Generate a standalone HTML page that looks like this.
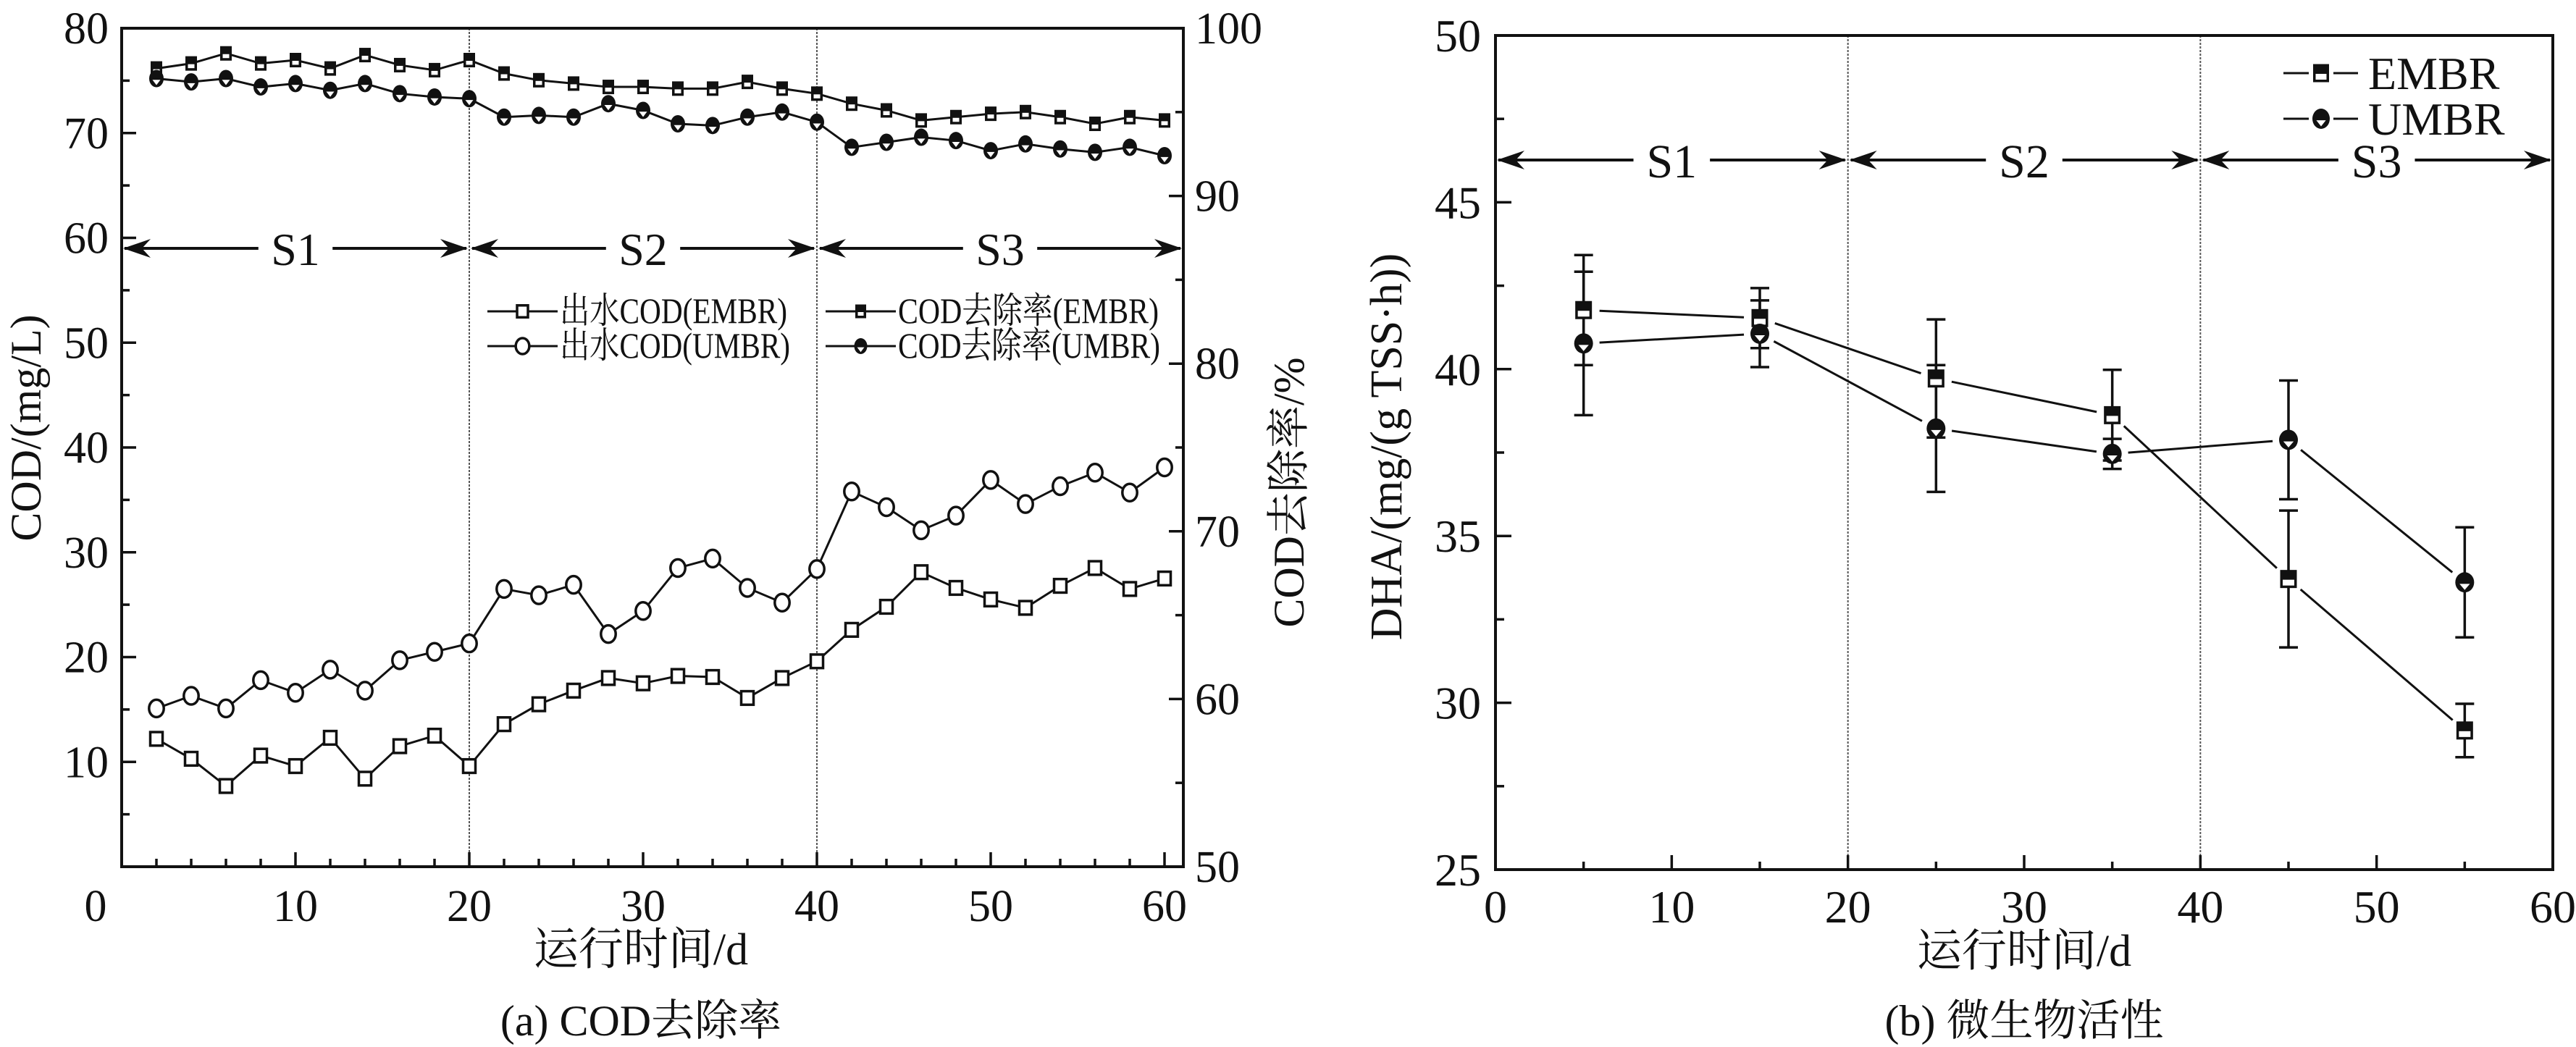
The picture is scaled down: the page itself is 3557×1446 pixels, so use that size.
<!DOCTYPE html>
<html><head><meta charset="utf-8"><style>
html,body{margin:0;padding:0;background:#fff;}
svg{display:block;}
text{font-family:"Liberation Serif","Noto Serif CJK SC","Noto Sans CJK SC",serif;fill:#111;}
</style></head><body>
<svg id="fig" width="3557" height="1446" viewBox="0 0 3557 1446" xmlns="http://www.w3.org/2000/svg">
<g id="chartA"></g>
<g id="chartB"></g>
</svg>
<script>
// ---- Chart (a) data ----
const daysA = [2,4,6,8,10,12,14,16,18,20,22,24,26,28,30,32,34,36,38,40,42,44,46,48,50,52,54,56,58,60];
const effEMBR = [12.2,10.3,7.7,10.6,9.6,12.3,8.4,11.5,12.5,9.6,13.6,15.5,16.8,18.0,17.5,18.2,18.1,16.1,18.0,19.6,22.6,24.8,28.1,26.6,25.5,24.7,26.8,28.5,26.5,27.5];
const effUMBR = [15.1,16.3,15.1,17.8,16.6,18.8,16.8,19.7,20.5,21.3,26.5,25.9,26.9,22.2,24.4,28.5,29.4,26.6,25.2,28.4,35.8,34.3,32.1,33.5,36.9,34.6,36.3,37.6,35.7,38.1];
const remEMBR = [97.6,97.9,98.5,97.9,98.1,97.6,98.4,97.8,97.5,98.1,97.3,96.9,96.7,96.5,96.5,96.4,96.4,96.8,96.4,96.1,95.5,95.1,94.5,94.7,94.9,95.0,94.7,94.3,94.7,94.5];
const remUMBR = [97.0,96.8,97.0,96.5,96.7,96.3,96.7,96.1,95.9,95.8,94.7,94.8,94.7,95.5,95.1,94.3,94.2,94.7,95.0,94.4,92.9,93.2,93.5,93.3,92.7,93.1,92.8,92.6,92.9,92.4];
const ticksA_left = [10,20,30,40,50,60,70,80];
const ticksA_right = [50,60,70,80,90,100];
const ticksA_x = [0,10,20,30,40,50,60];
// ---- Chart (b) data ----
const daysB = [5,15,25,35,45,55];
const dhaEMBR = [41.77,41.53,39.72,38.62,33.71,29.17];
const dhaUMBR = [40.77,41.06,38.22,37.46,37.88,33.61];
const errEMBR = [1.65,0.9,1.77,1.36,2.05,0.8];
const errUMBR = [2.15,1.0,1.9,0.45,1.78,1.65];
const ticksB_y = [25,30,35,40,45,50];
const ticksB_x = [0,10,20,30,40,50,60];

const NS='http://www.w3.org/2000/svg';
function mk(parent,tag,attrs,txt){const e=document.createElementNS(NS,tag);for(const k in attrs)e.setAttribute(k,attrs[k]);if(txt!==undefined)e.textContent=txt;parent.appendChild(e);return e;}

const A={L:168,R:1634,T:39,B:1197};
const ax=d=>A.L+d*24;
const ayL=v=>A.B-v*(A.B-A.T)/80;
const ayR=v=>A.B-(v-50)*(A.B-A.T)/50;
const B={L:2065,R:3525,T:49,B:1201};
const bx=d=>B.L+d*(B.R-B.L)/60;
const by=v=>B.B-(v-25)*(B.B-B.T)/25;

function openSquare(g,x,y,s){mk(g,'rect',{x:x-s/2,y:y-s*0.55,width:s,height:s*1.1,fill:'#fff',stroke:'#111','stroke-width':3.5});}
function openCircle(g,x,y,r){mk(g,'ellipse',{cx:x,cy:y,rx:r*0.85,ry:r,fill:'#fff',stroke:'#111','stroke-width':3.5});}
function halfSquare(g,x,y,w,h){mk(g,'rect',{x:x-w/2,y:y-h/2,width:w,height:h,fill:'#111'});mk(g,'rect',{x:x-w/2+3.5,y:y+1,width:w-7,height:h/2-4.5,fill:'#fff'});}
function halfCircle(g,x,y,rx,ry){mk(g,'ellipse',{cx:x,cy:y,rx:rx,ry:ry,fill:'#111'});mk(g,'path',{d:`M${x-rx*0.55},${y+ry*0.15} L${x+rx*0.55},${y+ry*0.15} L${x},${y+ry*0.75} Z`,fill:'#fff'});}
function polyline(g,xs,ys,name){const p=mk(g,'polyline',{points:xs.map((x,i)=>x+','+ys[i]).join(' '),fill:'none',stroke:'#111','stroke-width':3});}
function arrowHead(g,x,y,dir){mk(g,'path',{d:`M${x},${y} L${x-dir*38},${y-13} L${x-dir*26},${y} L${x-dir*38},${y+13} Z`,fill:'#111'});}
function stageArrow(g,x1,x2,y,label,fs){const cx=(x1+x2)/2;const hw=fs*0.8;
 mk(g,'line',{x1:x1+4,y1:y,x2:cx-hw,y2:y,stroke:'#111','stroke-width':4});
 mk(g,'line',{x1:cx+hw,y1:y,x2:x2-4,y2:y,stroke:'#111','stroke-width':4});
 arrowHead(g,x1+2,y,-1);arrowHead(g,x2-2,y,1);
 const t=mk(g,'text',{x:cx,y:y+fs*0.36,'font-size':fs,'text-anchor':'middle'},label);
 }

// ===== Chart A =====
const gA=document.getElementById('chartA');
[20,40].forEach(d=>{const l=mk(gA,'line',{x1:ax(d),y1:A.T,x2:ax(d),y2:A.B,stroke:'#555','stroke-width':2,'stroke-dasharray':'3,2'});});
const fA=mk(gA,'rect',{x:A.L,y:A.T,width:A.R-A.L,height:A.B-A.T,fill:'none',stroke:'#111','stroke-width':4});

for(let d=2;d<=60;d+=2){const major=d%10===0;mk(gA,'line',{x1:ax(d),y1:A.B,x2:ax(d),y2:A.B-(major?20:11),stroke:'#111','stroke-width':3.5});}
ticksA_x.forEach(d=>{const t=mk(gA,'text',{x:d===0?132:ax(d),y:1272,'font-size':62,'text-anchor':'middle'},String(d));});
for(let v=5;v<80;v+=5){const major=v%10===0;mk(gA,'line',{x1:A.L,y1:ayL(v),x2:A.L+(major?20:11),y2:ayL(v),stroke:'#111','stroke-width':3.5});}
ticksA_left.forEach(v=>{const t=mk(gA,'text',{x:150,y:ayL(v)+21,'font-size':62,'text-anchor':'end'},String(v));});
for(let v=55;v<100;v+=5){const major=v%10===0;mk(gA,'line',{x1:A.R,y1:ayR(v),x2:A.R-(major?20:11),y2:ayR(v),stroke:'#111','stroke-width':3.5});}
ticksA_right.forEach(v=>{const t=mk(gA,'text',{x:1650,y:ayR(v)+21,'font-size':62,'text-anchor':'start'},String(v));});
let t;
t=mk(gA,'text',{x:0,y:0,'font-size':60,'text-anchor':'middle',transform:'translate(56,591) rotate(-90)'},'COD/(mg/L)');
t=mk(gA,'text',{x:0,y:0,'font-size':60,'text-anchor':'middle',transform:'translate(1800,680) rotate(-90)'},'COD去除率/%');
t=mk(gA,'text',{x:885,y:1332,'font-size':62,'text-anchor':'middle'},'运行时间/d');
t=mk(gA,'text',{x:885,y:1430,'font-size':60,'text-anchor':'middle'},'(a) COD去除率');
stageArrow(gA,ax(0),ax(20),343,'S1',64);stageArrow(gA,ax(20),ax(40),343,'S2',64);stageArrow(gA,ax(40),A.R,343,'S3',64);
const xsA=daysA.map(ax);
polyline(gA,xsA,effEMBR.map(ayL),'line-effluent-embr');
polyline(gA,xsA,effUMBR.map(ayL),'line-effluent-umbr');
polyline(gA,xsA,remEMBR.map(ayR),'line-removal-embr');
polyline(gA,xsA,remUMBR.map(ayR),'line-removal-umbr');
daysA.forEach((d,i)=>{
 let g=mk(gA,'g',{});openSquare(g,ax(d),ayL(effEMBR[i]),17);
 g=mk(gA,'g',{});openCircle(g,ax(d),ayL(effUMBR[i]),12);
 g=mk(gA,'g',{});halfSquare(g,ax(d),ayR(remEMBR[i]),16,20);
 g=mk(gA,'g',{});halfCircle(g,ax(d),ayR(remUMBR[i]),10,12);
});
const legA=mk(gA,'g',{});
function legEntry(g,x1,x2,y,drawFn,label,tx,tw,name){const e=mk(g,'g',{});
 mk(e,'line',{x1:x1,y1:y,x2:x2,y2:y,stroke:'#111','stroke-width':3});drawFn(e,(x1+x2)/2,y);
 mk(e,'text',{x:tx,y:y+16,'font-size':50,textLength:tw,lengthAdjust:'spacingAndGlyphs'},label);}
legEntry(legA,673,770,430,(g,x,y)=>openSquare(g,x,y,15),'出水COD(EMBR)',773,314,'legend-entry-effluent-embr');
legEntry(legA,673,770,478,(g,x,y)=>openCircle(g,x,y,11),'出水COD(UMBR)',773,318,'legend-entry-effluent-umbr');
legEntry(legA,1140,1237,430,(g,x,y)=>halfSquare(g,x,y,15,19),'COD去除率(EMBR)',1240,360,'legend-entry-removal-embr');
legEntry(legA,1140,1237,478,(g,x,y)=>halfCircle(g,x,y,9,11),'COD去除率(UMBR)',1240,362,'legend-entry-removal-umbr');

// ===== Chart B =====
const gB=document.getElementById('chartB');
[20,40].forEach(d=>{const l=mk(gB,'line',{x1:bx(d),y1:B.T,x2:bx(d),y2:B.B,stroke:'#555','stroke-width':2,'stroke-dasharray':'3,2'});});
const fB=mk(gB,'rect',{x:B.L,y:B.T,width:B.R-B.L,height:B.B-B.T,fill:'none',stroke:'#111','stroke-width':4});

for(let d=5;d<60;d+=5){const major=d%10===0;mk(gB,'line',{x1:bx(d),y1:B.B,x2:bx(d),y2:B.B-(major?20:11),stroke:'#111','stroke-width':3.5});}
ticksB_x.forEach(d=>{const t=mk(gB,'text',{x:bx(d),y:1274,'font-size':64,'text-anchor':'middle'},String(d));});
for(let v=27.5;v<50;v+=2.5){const major=v%5===0;mk(gB,'line',{x1:B.L,y1:by(v),x2:B.L+(major?22:12),y2:by(v),stroke:'#111','stroke-width':3.5});}
ticksB_y.forEach(v=>{const t=mk(gB,'text',{x:2045,y:by(v)+22,'font-size':64,'text-anchor':'end'},String(v));});
t=mk(gB,'text',{x:0,y:0,'font-size':62,'text-anchor':'middle',transform:'translate(1935,617) rotate(-90)'},'DHA/(mg/(g TSS·h))');
t=mk(gB,'text',{x:2795,y:1334,'font-size':62,'text-anchor':'middle'},'运行时间/d');
t=mk(gB,'text',{x:2795,y:1430,'font-size':60,'text-anchor':'middle'},'(b) 微生物活性');
stageArrow(gB,bx(0),bx(20),221,'S1',66);stageArrow(gB,bx(20),bx(40),221,'S2',66);stageArrow(gB,bx(40),B.R,221,'S3',66);
daysB.forEach((d,i)=>{
 [[dhaEMBR[i],errEMBR[i],'errorbar-embr'],[dhaUMBR[i],errUMBR[i],'errorbar-umbr']].forEach(([v,e,n])=>{
  const g=mk(gB,'g',{});
  const x=bx(d);mk(g,'line',{x1:x,y1:by(v+e),x2:x,y2:by(v-e),stroke:'#111','stroke-width':3.5});
  mk(g,'line',{x1:x-13,y1:by(v+e),x2:x+13,y2:by(v+e),stroke:'#111','stroke-width':3.5});
  mk(g,'line',{x1:x-13,y1:by(v-e),x2:x+13,y2:by(v-e),stroke:'#111','stroke-width':3.5});
 });
});
const xsB=daysB.map(bx);
function gapLine(g,xs,ys,gap,name){const gg=mk(g,'g',{});
 for(let i=0;i<xs.length-1;i++){const dx=xs[i+1]-xs[i],dy=ys[i+1]-ys[i],L=Math.hypot(dx,dy),ux=dx/L,uy=dy/L;
  mk(gg,'line',{x1:xs[i]+ux*gap,y1:ys[i]+uy*gap,x2:xs[i+1]-ux*gap,y2:ys[i+1]-uy*gap,stroke:'#111','stroke-width':3});}}
gapLine(gB,xsB,dhaEMBR.map(by),22,'line-dha-embr');
gapLine(gB,xsB,dhaUMBR.map(by),22,'line-dha-umbr');
daysB.forEach((d,i)=>{
 let g=mk(gB,'g',{});halfSquare(g,bx(d),by(dhaEMBR[i]),23,25);
 g=mk(gB,'g',{});halfCircle(g,bx(d),by(dhaUMBR[i]),13,14);
});
const legB=mk(gB,'g',{});
function legEntryB(y,drawFn,label,name){const e=mk(legB,'g',{});
 mk(e,'line',{x1:3153,y1:y,x2:3188,y2:y,stroke:'#111','stroke-width':3});mk(e,'line',{x1:3222,y1:y,x2:3256,y2:y,stroke:'#111','stroke-width':3});
 drawFn(e,3205,y);mk(e,'text',{x:3270,y:y+22,'font-size':64},label);}
legEntryB(101,(g,x,y)=>halfSquare(g,x,y,22,25),'EMBR','legend-entry-embr');
legEntryB(164,(g,x,y)=>halfCircle(g,x,y,12,14),'UMBR','legend-entry-umbr');
</script>
</body></html>
